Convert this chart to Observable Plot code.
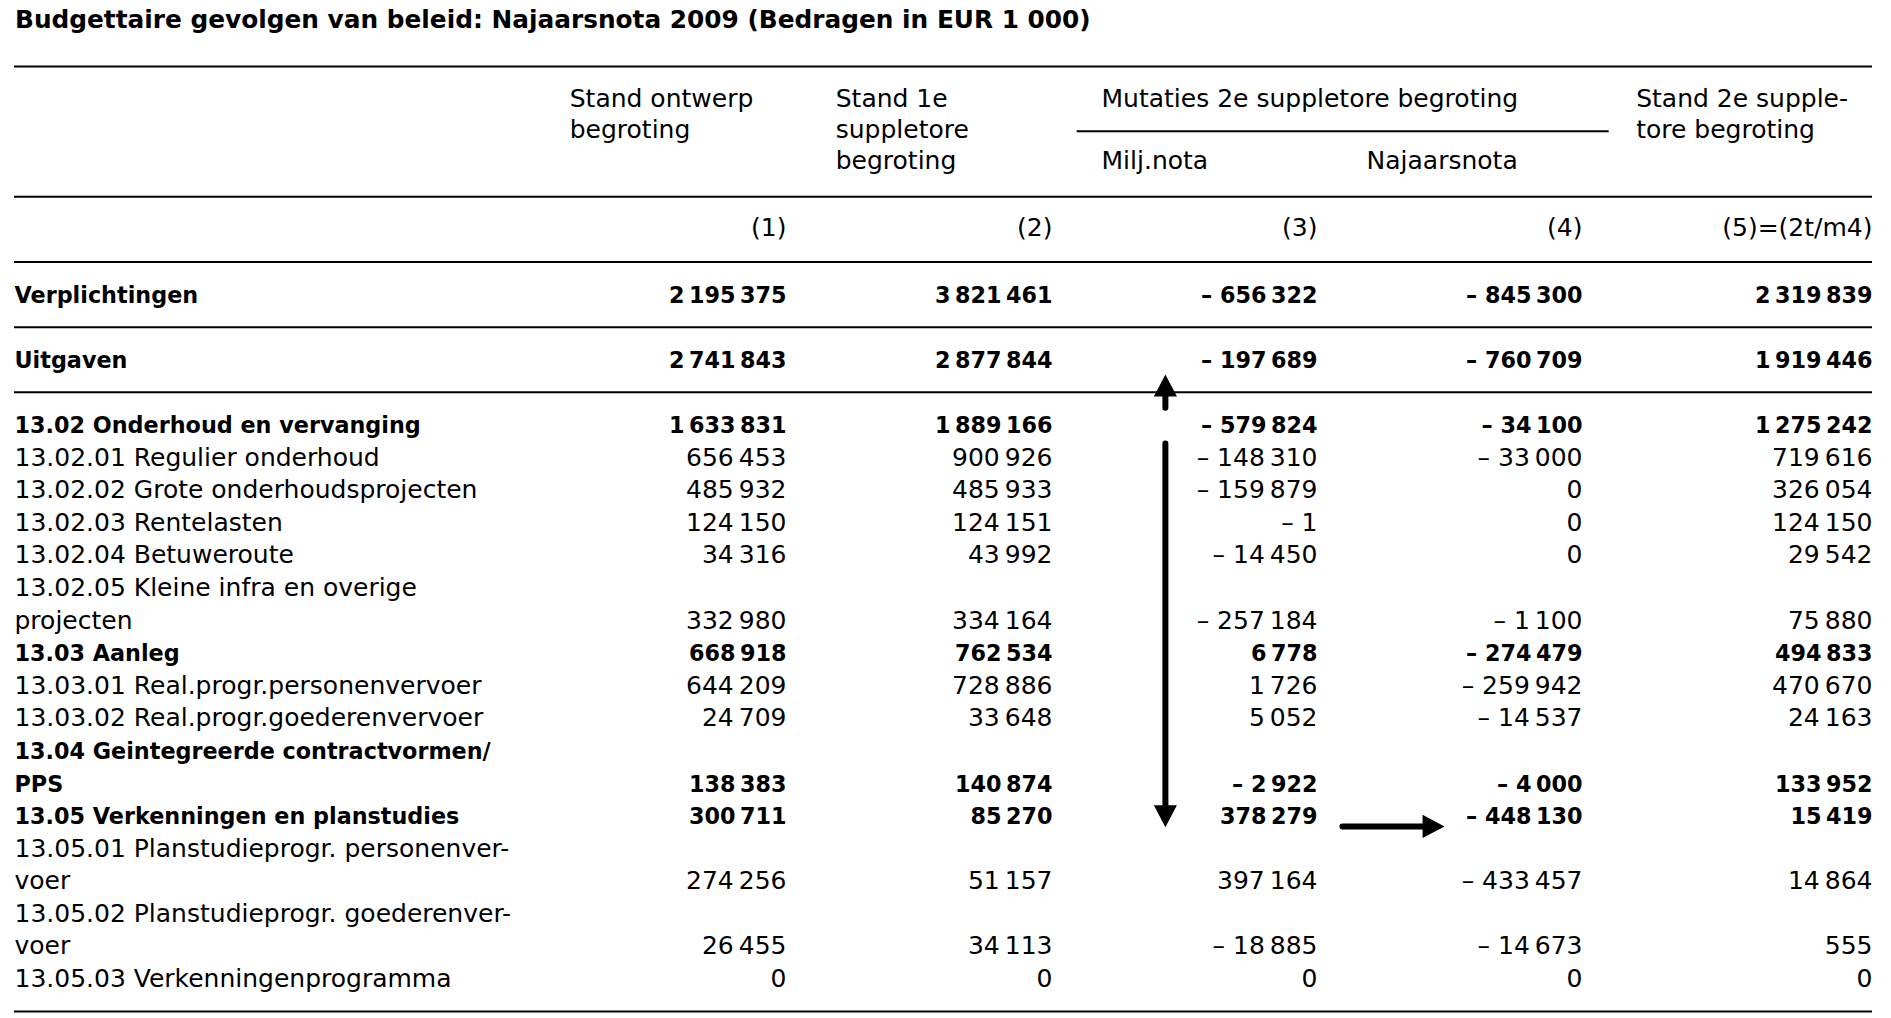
<!DOCTYPE html>
<html><head><meta charset="utf-8">
<script src="https://cdn.jsdelivr.net/npm/d3@7"></script>
<script src="https://cdn.jsdelivr.net/npm/@observablehq/plot@0.6"></script>
<style>
html,body{margin:0;padding:0;background:#fff;}
#title{font-family:"DejaVu Sans";font-weight:bold;font-size:24.8px;height:40px;box-sizing:border-box;padding:5px 0 0 15px;line-height:normal;color:#000;white-space:nowrap;overflow:hidden;}
#chart svg{display:block;}
</style></head><body>
<div id="title"></div>
<div id="chart"></div>
<script>
// ---- data ----
const title = "Budgettaire gevolgen van beleid: Najaarsnota 2009 (Bedragen in EUR 1 000)";
const headerTexts = ["Stand ontwerp\nbegroting", "Stand 1e\nsuppletore\nbegroting", "Mutaties 2e suppletore begroting", "Milj.nota", "Najaarsnota", "Stand 2e supple-\ntore begroting"];
const headerCols = [1, 2, 3, 3, 4, 5];
const headerStartLine = [0, 0, 0, 2, 2, 0];
const columnNumbers = ["(1)", "(2)", "(3)", "(4)", "(5)=(2t/m4)"];
const summaryLabels = ["Verplichtingen", "Uitgaven"];
const labels = [
  "13.02 Onderhoud en vervanging",
  "13.02.01 Regulier onderhoud",
  "13.02.02 Grote onderhoudsprojecten",
  "13.02.03 Rentelasten",
  "13.02.04 Betuweroute",
  "13.02.05 Kleine infra en overige\nprojecten",
  "13.03 Aanleg",
  "13.03.01 Real.progr.personenvervoer",
  "13.03.02 Real.progr.goederenvervoer",
  "13.04 Geintegreerde contractvormen/\nPPS",
  "13.05 Verkenningen en planstudies",
  "13.05.01 Planstudieprogr. personenver-\nvoer",
  "13.05.02 Planstudieprogr. goederenver-\nvoer",
  "13.05.03 Verkenningenprogramma"
];
const boldRows = [true, false, false, false, false, false, true, false, false, true, true, false, false, false];
// summary rows first (Verplichtingen, Uitgaven), then detail rows
const col1 = [2195375, 2741843, 1633831, 656453, 485932, 124150, 34316, 332980, 668918, 644209, 24709, 138383, 300711, 274256, 26455, 0];
const col2 = [3821461, 2877844, 1889166, 900926, 485933, 124151, 43992, 334164, 762534, 728886, 33648, 140874, 85270, 51157, 34113, 0];
const col3 = [-656322, -197689, -579824, -148310, -159879, -1, -14450, -257184, 6778, 1726, 5052, -2922, 378279, 397164, -18885, 0];
const col4 = [-845300, -760709, -34100, -33000, 0, 0, 0, -1100, -274479, -259942, -14537, -4000, -448130, -433457, -14673, 0];
const col5 = [2319839, 1919446, 1275242, 719616, 326054, 124150, 29542, 75880, 494833, 470670, 24163, 133952, 15419, 14864, 555, 0];
// annotation arrows (column units / line units)
const arrowX1 = [2.426, 2.426, 3.094];
const arrowY1 = [-0.78, 0.32, 12.07];
const arrowX2 = [2.426, 2.426, 3.438];
const arrowY2 = [-1.46, 11.76, 12.07];

// ---- layout (table structure in column / line units) ----
const L = {
  headerLine0: -10.02, headerStep: 0.951, colNumLine: -6.05,
  summaryLines: [-4, -2],
  rules: [-11.25, -7.25, -5.25, -3.25, -1.25, 17.75],
  underlineY: -9.26, headerInset: 0.815, gutterHalf: 0.092,
  lineStep: 32.59, regSize: 25, boldSize: 22.3
};

document.getElementById("title").textContent = title;

const fmt = v => (v < 0 ? "\u2013 " : "") + d3.format(",")(Math.abs(v)).replace(/,/g, "\u2009");
const cols = [col1, col2, col3, col4, col5];

// rows table
let line = 0;
const rows = [
  ...summaryLabels.map((label, i) => ({label, bold: true, line: L.summaryLines[i], idx: i})),
  ...labels.map((label, i) => { line += label.split("\n").length; return {label, bold: boldRows[i], line: line - 1, idx: i + summaryLabels.length}; })
];
const cells = rows.flatMap(r => cols.map((c, k) => ({col: k + 1, line: r.line, value: c[r.idx], bold: r.bold})));
const headerLines = headerTexts.flatMap((t, i) => t.split("\n").map((s, j) => ({text: s, col: headerCols[i], line: L.headerLine0 + (headerStartLine[i] + j) * L.headerStep})));
const arrows = arrowX1.map((x1, i) => ({x1, y1: arrowY1[i], x2: arrowX2[i], y2: arrowY2[i],
  angle: Math.atan2(arrowX2[i] - x1, -(arrowY2[i] - arrowY1[i])) * 180 / Math.PI}));

const arrowHead = {
  draw(context, size) {
    const r = Math.sqrt(size / Math.PI);
    context.moveTo(0, -r);
    context.lineTo(1.05 * r, r);
    context.lineTo(-1.05 * r, r);
    context.closePath();
  }
};

const reg = {fontSize: L.regSize, lineAnchor: "bottom", lineHeight: L.lineStep / L.regSize, fill: "#000"};
const bld = {fontSize: L.boldSize, fontWeight: "bold", lineAnchor: "bottom", lineHeight: L.lineStep / L.boldSize, fill: "#000"};

const chart = Plot.plot({
  width: 1891, height: 978,
  marginLeft: 14, marginRight: 19, marginTop: 0, marginBottom: 0,
  x: {type: "linear", domain: [1, 2, 3, 4, 5], range: [786, 1052, 1317, 1582, 1872], axis: null},
  y: {type: "linear", domain: [-11.25, 17.75], range: [26, 971], axis: null},
  style: {fontFamily: "DejaVu Sans", color: "#000", background: "#fff"},
  marks: [
    Plot.ruleY(L.rules, {stroke: "#000", strokeWidth: 2}),
    Plot.ruleY([L.underlineY], {x1: () => 3 - L.headerInset - L.gutterHalf, x2: () => 4 + L.gutterHalf, stroke: "#000", strokeWidth: 2}),
    Plot.text(headerLines, {x: d => d.col - L.headerInset, y: "line", text: "text", textAnchor: "start", ...reg}),
    Plot.text(columnNumbers, {x: (d, i) => i + 1, y: () => L.colNumLine, text: d => d, textAnchor: "end", ...reg}),
    Plot.text(rows.filter(d => !d.bold), {y: "line", text: "label", frameAnchor: "left", textAnchor: "start", ...reg}),
    Plot.text(rows.filter(d => d.bold), {y: "line", text: "label", frameAnchor: "left", textAnchor: "start", ...bld}),
    Plot.text(cells.filter(d => !d.bold), {x: "col", y: "line", text: d => fmt(d.value), textAnchor: "end", ...reg}),
    Plot.text(cells.filter(d => d.bold), {x: "col", y: "line", text: d => fmt(d.value), textAnchor: "end", ...bld}),
    Plot.link(arrows, {x1: "x1", y1: "y1", x2: "x2", y2: "y2", stroke: "#000", strokeWidth: 6, strokeLinecap: "round"}),
    Plot.dot(arrows, {x: "x2", y: "y2", symbol: arrowHead, r: 11, fill: "#000", stroke: "none", rotate: "angle"})
  ]
});
document.getElementById("chart").appendChild(chart);
</script>
</body></html>
